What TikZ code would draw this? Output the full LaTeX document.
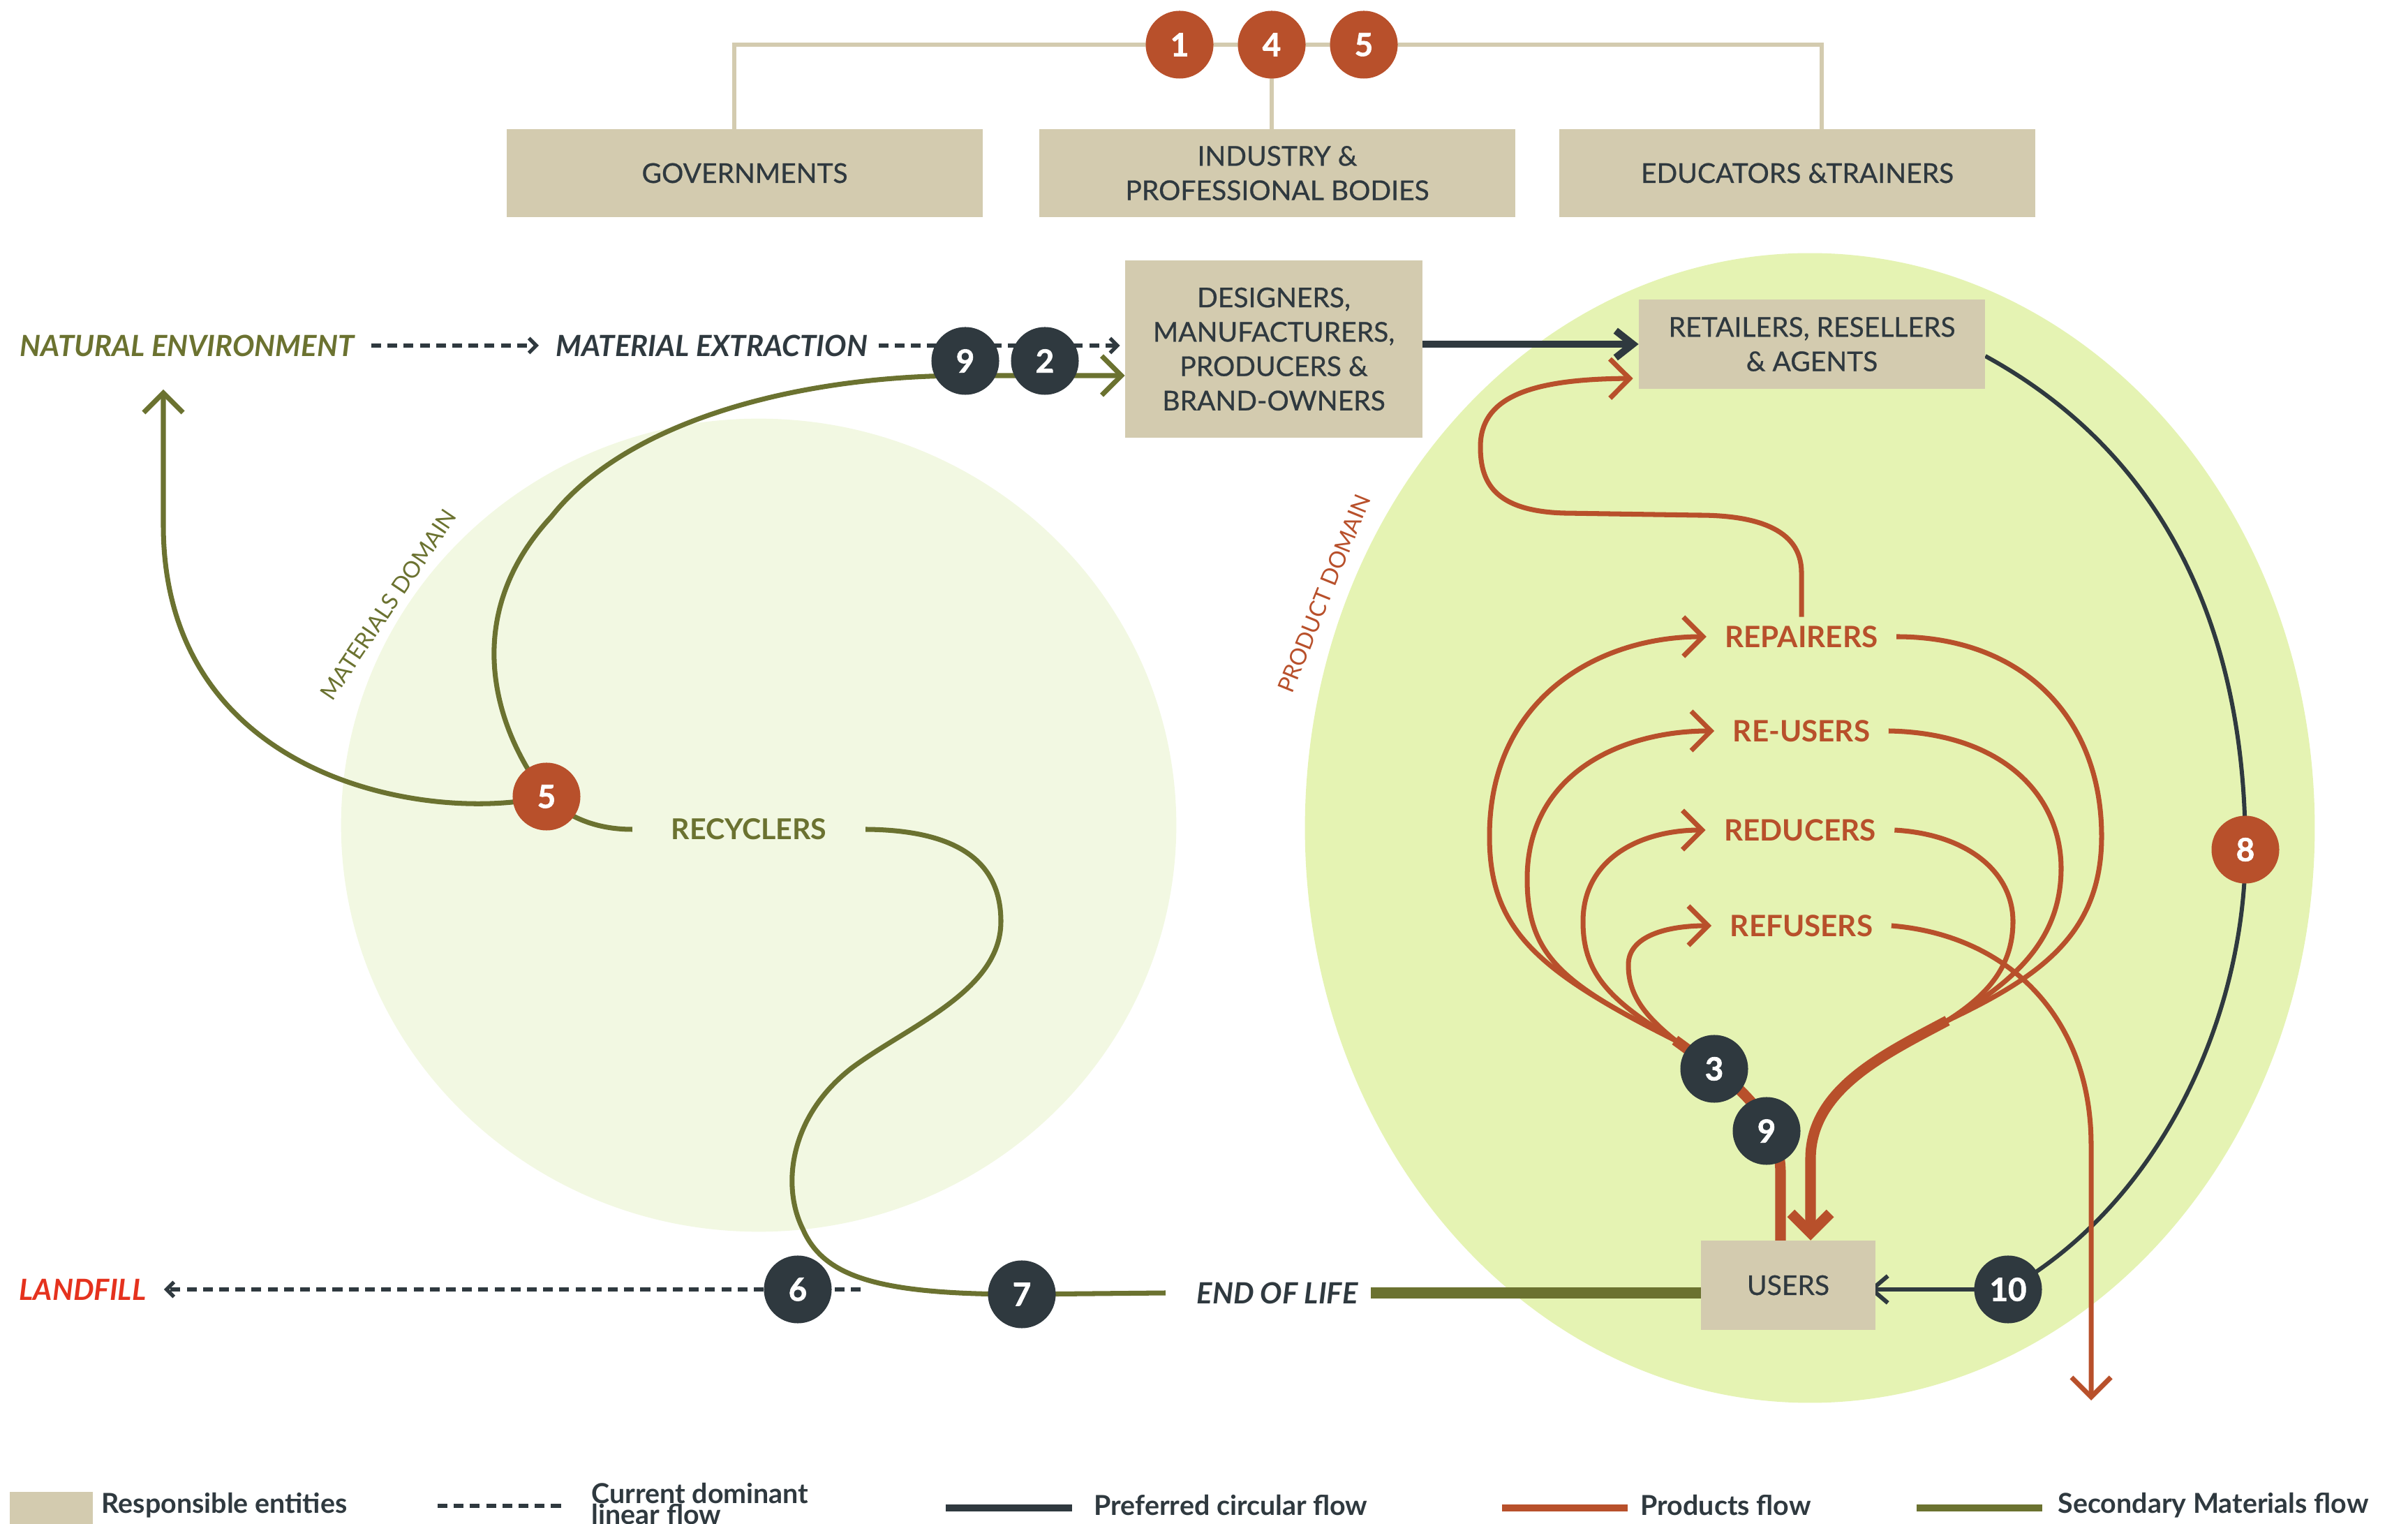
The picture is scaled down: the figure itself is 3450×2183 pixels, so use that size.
\documentclass[tikz,border=0pt]{standalone}
\usepackage{fontspec}
\setmainfont{Lato}
\usetikzlibrary{arrows.meta,calc}
\definecolor{cdark}{HTML}{2F393F}
\definecolor{cbeige}{HTML}{D3CBAF}
\definecolor{corange}{HTML}{B8502B}
\definecolor{colive}{HTML}{6B7230}
\definecolor{cgreenA}{HTML}{E5F3B3}
\definecolor{cgreenB}{HTML}{F2F8E2}
\definecolor{cred}{HTML}{E5321E}
\newcommand\fntbox{\fontsize{11.1pt}{14pt}\selectfont\addfontfeatures{FakeBold=0.6}}
\newcommand\fntlbl{\fontsize{12pt}{13pt}\selectfont\bfseries}
\newcommand\fntlab{\fontsize{11.9pt}{12pt}\selectfont\bfseries\itshape}
\newcommand\fntrec{\fontsize{11.7pt}{13pt}\selectfont\bfseries}
\newcommand\fntnum{\fontsize{13pt}{14pt}\selectfont\bfseries\addfontfeatures{FakeBold=1.5}}
\newcommand\fntleg{\fontsize{11.2pt}{8.5pt}\selectfont\bfseries}
\newcommand\fntdom{\fontsize{9.3pt}{10pt}\selectfont}
\pgfdeclarelayer{bgl}
\pgfdeclarelayer{lnl}
\pgfsetlayers{bgl,lnl,main}
\tikzset{
  box/.style={fill=cbeige, text=cdark, font=\fntbox, align=center, inner sep=0pt},
  numd/.style={circle, fill=cdark, text=white, minimum size=0.97cm, inner sep=0pt, font=\fntnum},
  numo/.style={numd, fill=corange},
  lbl/.style={font=\fntlbl, text=corange, inner ysep=0pt, inner xsep=0.26cm},
  lab/.style={font=\fntlab, inner sep=0pt},
  leg/.style={font=\fntleg, text=cdark, inner sep=0pt},
  dom/.style={font=\fntdom, inner sep=0pt},
  >={Straight Barb[length=8pt,width=16pt]},
  oliv/.style={draw=colive, line width=2pt},
  olivthick/.style={draw=colive, line width=4.3pt},
  orng/.style={draw=corange, line width=2pt},
  orngthick/.style={draw=corange, line width=4.3pt},
  darkl/.style={draw=cdark, line width=1.7pt, >={Straight Barb[length=6.5pt,width=11pt]}},
  darkthick/.style={draw=cdark, line width=2.9pt, >={Straight Barb[length=7pt,width=11pt]}},
  dashl/.style={draw=cdark, line width=1.5pt, dash pattern=on 4pt off 2.6pt, >={Straight Barb[length=3pt,width=6pt]}},
  bracket/.style={draw=cbeige, line width=1.6pt}
}
\begin{document}
\begin{tikzpicture}[x=0.01cm,y=-0.01cm]
\useasboundingbox (0,0) rectangle (3450,2183);
\begin{pgfonlayer}{bgl}
  \fill[cgreenB] (1087,1182) ellipse [x radius=5.98cm, y radius=5.82cm];
  \fill[cgreenA] (2593,1186) ellipse [x radius=7.23cm, y radius=8.23cm];
\end{pgfonlayer}
\node[dom, text=colive, rotate=56] (matdom) at (556,866) {MATERIALS DOMAIN};
\node[dom, text=corange, rotate=68] (prodom) at (1897,850) {PRODUCT DOMAIN};

% boxes
\node[box, minimum width=6.82cm, minimum height=1.25cm] (gov) at (1067,248) {GOVERNMENTS};
\node[box, minimum width=6.82cm, minimum height=1.25cm] (ind) at (1830,248) {INDUSTRY \&\\PROFESSIONAL BODIES};
\node[box, minimum width=6.82cm, minimum height=1.25cm] (edu) at (2575,248) {EDUCATORS \&TRAINERS};
\node[box, minimum width=4.25cm, minimum height=2.53cm] (des) at (1825,500) {DESIGNERS,\\MANUFACTURERS,\\PRODUCERS \&\\BRAND-OWNERS};
\node[box, minimum width=4.95cm, minimum height=1.28cm] (ret) at (2596,493) {RETAILERS, RESELLERS\\\& AGENTS};
\node[box, minimum width=2.49cm, minimum height=1.27cm] (users) at (2562,1841) {USERS};

% numbers
\node[numo] (n1) at (1690,64) {1};
\node[numo] (n4) at (1822,64) {4};
\node[numo] (n5t) at (1954,64) {5};
\node[numd] (n9a) at (1383,517) {9};
\node[numd] (n2) at (1497,517) {2};
\node[numo] (n5) at (783,1141) {5};
\node[numd] (n6) at (1143,1847) {6};
\node[numd] (n7) at (1464,1854) {7};
\node[numd] (n3) at (2456,1531) {3};
\node[numd] (n9b) at (2531,1620) {9};
\node[numo] (n8) at (3217,1217) {8};
\node[numd] (n10) at (2877,1847) {10};

% labels
\node[lab, anchor=west, text=colive] (natenv) at (28,495) {NATURAL ENVIRONMENT};
\node[lab, anchor=west, text=cdark] (matex) at (796,495) {MATERIAL EXTRACTION};
\node[lab, text=cdark] (eol) at (1830,1852) {END OF LIFE};
\node[lab, anchor=west, text=cred] (landfill) at (27,1847) {LANDFILL};
\node[font=\fntrec, text=colive, inner ysep=0pt, inner xsep=0.55cm] (rec) at (1073,1188) {RECYCLERS};
\node[lbl] (rep) at (2581,912) {REPAIRERS};
\node[lbl] (reu) at (2581,1047) {RE-USERS};
\node[lbl] (red) at (2579,1189) {REDUCERS};
\node[lbl] (ref) at (2581,1326) {REFUSERS};

\coordinate (neArrow) at (234,558);
\coordinate (cL) at (2400,1490);
\coordinate (cR) at (2790,1462);
\coordinate (refEnd) at (2996,2006);

\begin{pgfonlayer}{lnl}
  % bracket
  \draw[bracket] ([xshift=-0.15cm]gov.north) |- (n1.center) -- (n5t.center) -| ([xshift=0.35cm]edu.north);
  \draw[bracket] (n4.center) -- (n4.center |- ind.north);
  % linear flow
  \draw[dashl, ->, shorten <=0.24cm, shorten >=0.24cm] (natenv.east) -- (matex.west);
  \draw[dashl, ->, shorten >=0.07cm] ([xshift=0.15cm]matex.east) -- (matex.east -| des.west);
  \draw[dashl, ->, shorten >=0.25cm] ([xshift=0.41cm]n6.east) -- (landfill.east);
  % secondary materials
  \draw[oliv, ->] (n5.center) .. controls (705,1040) and (660,880) .. (790,740)
       .. controls (900,600) and (1150,538) .. (1383,538) -- ([yshift=-0.38cm]des.west);
  \draw[oliv, ->] (n5.center) .. controls (620,1180) and (234,1120) .. (234,752) -- (neArrow);
  \draw[oliv] (rec.west) .. controls (850,1188) and (810,1168) .. (n5.center);
  \draw[oliv] (rec.east) .. controls (1380,1189) and (1434,1240) .. (1434,1320)
       .. controls (1434,1420) and (1300,1470) .. (1220,1530)
       .. controls (1130,1600) and (1120,1700) .. (1150,1760)
       .. controls (1180,1830) and (1260,1854) .. (n7.center) -- ([xshift=-0.44cm]eol.west);
  \draw[olivthick] ([xshift=0.18cm]eol.east) -- (users.west |- eol.east);
  % preferred circular
  \draw[darkthick, ->] (des.east |- ret.west) -- (ret.west);
  \draw[darkl] ([yshift=-0.17cm]ret.east) .. controls (3100,650) and (3217,900) .. (n8.center)
       .. controls (3217,1450) and (3100,1720) .. (n10.center);
  \draw[darkl, ->, shorten >=-0.1cm] (n10.center) -- (users.east |- n10.center);
  % products
  \draw[orng, ->, shorten >=0.08cm] ([yshift=0.12cm]rep.north) -- (2581,820)
       .. controls (2581,755) and (2510,738) .. (2433,738) -- (2241,735)
       .. controls (2140,732) and (2121,690) .. (2121,640)
       .. controls (2121,570) and (2190,543) .. ([yshift=-0.49cm]ret.west);
  \draw[orngthick] ([xshift=-0.11cm]users.north) -- (2551,1680)
       .. controls (2551,1620) and (2510,1570) .. (n3.center) -- (cL);
  \draw[orng, ->] (cL) .. controls (2200,1390) and (2134,1330) .. (2134,1198)
       .. controls (2134,1000) and (2290,912) .. (rep.west);
  \draw[orng, ->] (cL) .. controls (2240,1410) and (2188,1370) .. (2188,1259)
       .. controls (2188,1110) and (2320,1047) .. (reu.west);
  \draw[orng, ->] (cL) .. controls (2300,1430) and (2268,1390) .. (2268,1320)
       .. controls (2268,1230) and (2350,1189) .. (red.west);
  \draw[orng, ->] (cL) .. controls (2350,1450) and (2333,1420) .. (2333,1382)
       .. controls (2333,1340) and (2390,1326) .. (ref.west);
  \draw[orng] (rep.east) .. controls (2900,912) and (3011,1030) .. (3011,1198)
       .. controls (3011,1340) and (2920,1400) .. (cR);
  \draw[orng] (reu.east) .. controls (2870,1050) and (2953,1140) .. (2953,1244)
       .. controls (2953,1350) and (2880,1410) .. (cR);
  \draw[orng] (red.east) .. controls (2820,1195) and (2884,1250) .. (2884,1320)
       .. controls (2884,1390) and (2840,1430) .. (cR);
  \draw[orngthick, ->] (cR) .. controls (2700,1510) and (2594,1560) .. (2594,1660)
       -- ([xshift=0.32cm]users.north);
  \draw[orng, ->] (ref.east) .. controls (2880,1340) and (2996,1460) .. (2996,1640) -- (refEnd);
\end{pgfonlayer}

% legend
\node[fill=cbeige, minimum width=1.19cm, minimum height=0.6cm, inner sep=0pt, anchor=north west] (lgbox) at (13,2136) {};
\node[leg, anchor=west] (lgt1) at (145,2156) {Responsible entities};
\coordinate (lgd1a) at (627,2157);
\coordinate (lgd1b) at (810,2157);
\draw[dashl] (lgd1a) -- (lgd1b);
\node[leg, anchor=north west, align=left] (lgt2) at (847,2124) {Current dominant\\linear flow};
\coordinate (lgd2a) at (1355,2160);
\coordinate (lgd2b) at (1536,2160);
\draw[cdark, line width=2.85pt] (lgd2a) -- (lgd2b);
\node[leg, anchor=west] (lgt3) at (1567,2156) {Preferred circular flow};
\coordinate (lgd3a) at (2152,2160);
\coordinate (lgd3b) at (2332,2160);
\draw[corange, line width=2.85pt] (lgd3a) -- (lgd3b);
\node[leg, anchor=west] (lgt4) at (2350,2156) {Products flow};
\coordinate (lgd4a) at (2746,2160);
\coordinate (lgd4b) at (2926,2160);
\draw[colive, line width=2.85pt] (lgd4a) -- (lgd4b);
\node[leg, anchor=west] (lgt5) at (2948,2156) {Secondary Materials flow};
\end{tikzpicture}
\end{document}
